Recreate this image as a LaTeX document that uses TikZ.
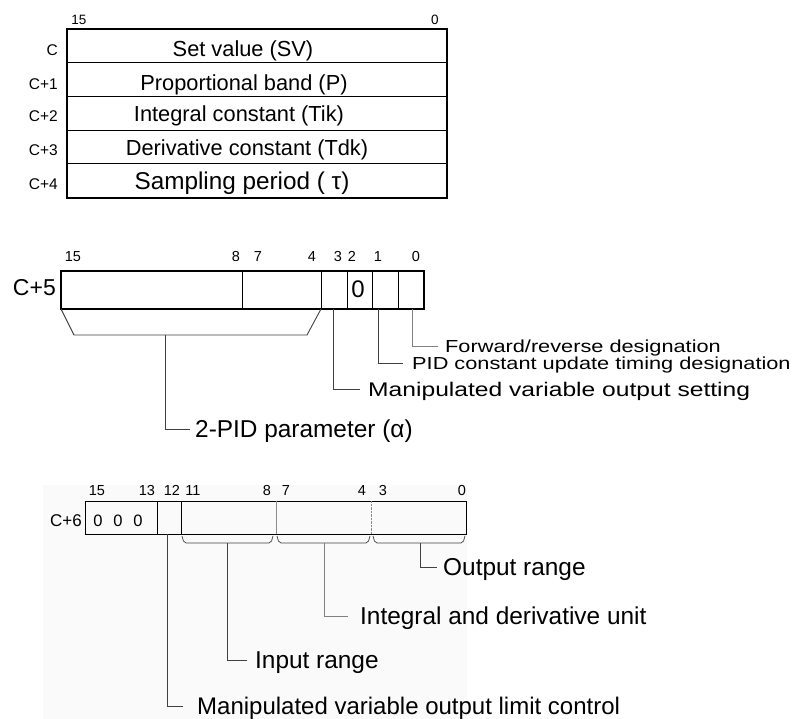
\documentclass[tikz,border=0pt]{standalone}
\usepackage{fontspec}
\setmainfont{Liberation Sans}
\newfontfamily\widesf{Liberation Sans}[FakeStretch=1.25]
\newcommand{\fsz}[1]{\fontsize{#1pt}{#1pt}\selectfont}

\begin{document}
\begin{tikzpicture}[x=1pt, y=-1pt,
    bitno/.style={font=\fsz{13.5}, anchor=base, inner sep=0pt},
    leader/.style={black!75, line width=0.9pt},
    lightleader/.style={black!50, line width=0.9pt},
    desc/.style={font=\widesf\fsz{17.4}, inner sep=0pt, text height=12.5pt, text depth=0pt, anchor=west},
    bigdesc/.style={desc, font=\widesf\fsz{19.7}, text height=14.1pt},
    plaindesc/.style={desc, font=\fsz{24.4}, text height=17.5pt}]
    \useasboundingbox (0,0) rectangle (796,719);

    % C ... C+4
    \draw[line width=1.2pt] (67,29) rectangle (447,198);
    \foreach \y in {63,97,131,164}
        \draw[line width=1pt] (67,\y) -- (447,\y);
    \node[bitno] (t15) at (79,25) {15};
    \node[bitno] (t0) at (435,25) {0};
    \foreach \y/\t [count=\i] in {56/C, 90/C+1, 122/C+2, 156/C+3, 190/C+4}
        \node[font=\fsz{15.5}, anchor=base east, inner sep=0pt] (w\i) at (58,\y) {\t};
    \node[font=\fsz{21.8}, anchor=base] (sv) at (243,57) {Set value (SV)};
    \node[font=\fsz{21.8}, anchor=base] (pb) at (244,91) {Proportional band (P)};
    \node[font=\fsz{21.8}, anchor=base] (tik) at (239,122) {Integral constant (Tik)};
    \node[font=\fsz{21.8}, anchor=base] (tdk) at (247,156) {Derivative constant (Tdk)};
    \node[font=\fsz{24.3}, anchor=base] (tau) at (242,190) {Sampling period ( τ)};

    % C+5
    \draw[line width=2.6pt] (61,271) rectangle (424,309);
    \foreach \x in {242,321,347,372,398}
        \draw[line width=1pt] (\x,271) -- (\x,309);
    \foreach \x/\b in {73/15, 236/8, 258/7, 312/4, 338/3, 352/2, 378/1, 416/0}
        \node[bitno, font=\fsz{14.5}] (f\b) at (\x,262) {\b};
    \node[font=\fsz{23}, anchor=east, inner sep=0pt] (c5) at (56,288) {C+5};
    \node[font=\fsz{24}] (zero) at (358,289) {0};
    \draw[leader] (61,309) -- (74,335) -- (307,335) -- (321,309);
    \coordinate (alpha) at (165,335);
    \coordinate (b3) at (333,309);
    \coordinate (b1) at (378,309);
    \coordinate (b0) at (412,309);

    \node[desc] (fwd) at (445,346) {Forward/reverse designation};
    \node[desc] (upd) at (412,363) {PID constant update timing designation};
    \node[bigdesc] (mv) at (368,389) {Manipulated variable output setting};
    \node[plaindesc] (pid2) at (195,429) {2-PID parameter (α)};
    \draw[lightleader] (b0) |- ([xshift=-7pt]fwd.west);
    \draw[leader] (b1) |- ([xshift=-9pt]upd.west);
    \draw[leader] (b3) |- ([xshift=-8pt]mv.west);
    \draw[leader] (alpha) |- ([xshift=-5pt]pid2.west);

    % C+6
    \fill[black!2] (43,485) rectangle (467,719);
    \draw[line width=1pt] (85,501) rectangle (466,534);
    \draw[line width=1pt] (157,501) -- (157,534);
    \draw[line width=1pt] (181,501) -- (181,534);
    \draw[black!45] (276,501) -- (276,534);
    \draw[black!45, densely dotted] (371,501) -- (371,534);
    \foreach \x/\b in {97/15, 147/13, 172/12, 193/11, 267/8, 286/7, 362/4, 383/3, 462/0}
        \node[bitno, font=\fsz{14.5}] (g\b) at (\x,496) {\b};
    \node[font=\fsz{17}, anchor=base east, inner sep=0pt] (c6) at (82,526) {C+6};
    \foreach \x [count=\i] in {98,118,138}
        \node[font=\fsz{16.5}, anchor=base, inner sep=0pt] (n\i) at (\x,526) {0};
    \foreach \a/\b in {182/273, 277/370, 373/465}
        \draw[leader, line width=0.7pt, rounded corners=2pt] (\a,536) -- ({\a+2},543) -- ({\b-2},543) -- (\b,536);
    \coordinate (b12) at (167,534);
    \coordinate (rin) at (227,543);
    \coordinate (rid) at (324,543);
    \coordinate (rout) at (420,543);

    \node[plaindesc] (outr) at (443,567) {Output range};
    \node[plaindesc] (idu) at (360,616) {Integral and derivative unit};
    \node[plaindesc] (inr) at (255,660) {Input range};
    \node[plaindesc, font=\fsz{24}, text height=17.2pt] (lim) at (197,706) {Manipulated variable output limit control};
    \draw[leader] (rout) |- ([xshift=-6pt]outr.west);
    \draw[lightleader] (rid) |- ([xshift=-12pt]idu.west);
    \draw[leader] (rin) |- ([xshift=-8pt]inr.west);
    \draw[leader] (b12) |- ([xshift=-14pt]lim.west);
\end{tikzpicture}
\end{document}
